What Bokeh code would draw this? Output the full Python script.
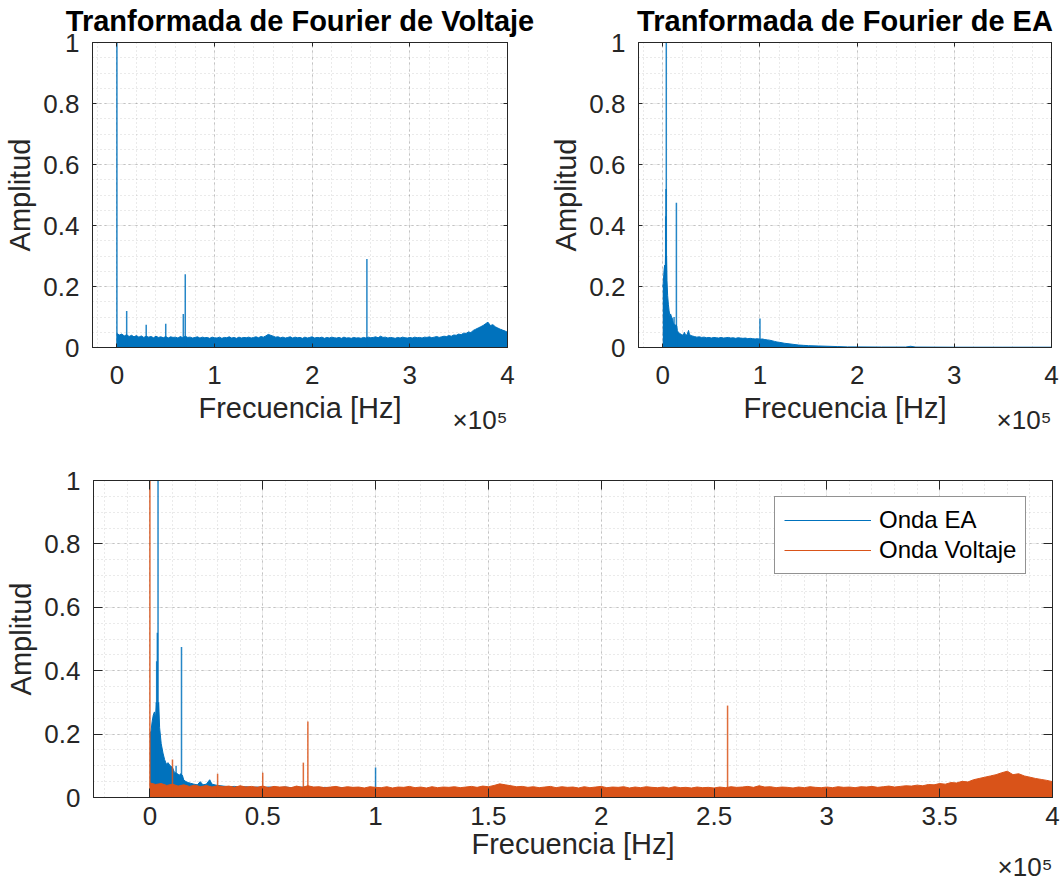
import numpy as np
from bokeh.plotting import figure
from bokeh.layouts import column, row
from bokeh.models import (FixedTicker, LinearAxis, Range1d, Legend, LegendItem,
                          Title)
from bokeh.embed import file_html
from bokeh.resources import INLINE

# ---------------------------------------------------------------- data
# Voltage spectrum: broadband floor sampled every 2.5 kHz (0 .. 400 kHz)
volt_floor_freq = list(range(0, 400001, 2500))
volt_floor_amp = [
    0.046, 0.041, 0.044, 0.038, 0.042, 0.036, 0.040, 0.035, 0.039, 0.034,
    0.038, 0.033, 0.037, 0.034, 0.036, 0.032, 0.037, 0.033, 0.035, 0.032,
    0.036, 0.031, 0.035, 0.033, 0.034, 0.031, 0.036, 0.032, 0.037, 0.033,
    0.034, 0.031, 0.033, 0.035, 0.031, 0.034, 0.032, 0.033, 0.030, 0.034,
    0.032, 0.031, 0.034, 0.030, 0.033, 0.032, 0.035, 0.031, 0.033, 0.030,
    0.034, 0.031, 0.033, 0.032, 0.034, 0.031, 0.033, 0.035, 0.032, 0.036,
    0.034, 0.038, 0.043, 0.040, 0.037, 0.034, 0.035, 0.032, 0.034, 0.031,
    0.033, 0.035, 0.031, 0.034, 0.032, 0.033, 0.030, 0.034, 0.031, 0.033,
    0.035, 0.031, 0.033, 0.032, 0.034, 0.030, 0.033, 0.031, 0.034, 0.032,
    0.031, 0.033, 0.030, 0.034, 0.031, 0.032, 0.030, 0.033, 0.031, 0.032,
    0.030, 0.033, 0.031, 0.034, 0.032, 0.033, 0.035, 0.032, 0.037, 0.033,
    0.034, 0.031, 0.033, 0.032, 0.030, 0.033, 0.031, 0.034, 0.032, 0.031,
    0.033, 0.031, 0.034, 0.032, 0.033, 0.031, 0.034, 0.033, 0.035, 0.032,
    0.034, 0.036, 0.033, 0.035, 0.037, 0.036, 0.039, 0.037, 0.041, 0.040,
    0.044, 0.042, 0.047, 0.046, 0.051, 0.049, 0.056, 0.060, 0.064, 0.068,
    0.072, 0.078, 0.083, 0.072, 0.075, 0.068, 0.064, 0.060, 0.057, 0.054,
    0.050,
]
# Voltage spectrum: narrow tones
volt_peak_freq = [0, 10000, 30000, 50000, 68000, 70000, 256000]
volt_peak_amp = [1.0, 0.12, 0.075, 0.078, 0.11, 0.24, 0.29]

# Acoustic-emission (EA) spectrum: broadband part
ea_floor_freq = [
    0, 500, 1000, 1500, 2000, 2500, 2800, 3300, 3900, 4300,
    5000, 5800, 6500, 7300, 8000, 9000, 10000, 10800, 12200, 13000,
    13600, 14400, 15000, 16000, 17000, 18000, 19500, 21000, 22300, 23500,
    25000, 26500, 27500, 30000, 32500, 35000, 37500, 40000, 42500, 45000,
    47500, 50000, 52500, 55000, 57500, 60000, 62500, 65000, 67500, 70000,
    72500, 75000, 77500, 80000, 82500, 85000, 87500, 90000, 92500, 95000,
    97500, 100000, 102500, 105000, 107500, 110000, 112500, 115000, 117500, 120000,
    125000, 130000, 135000, 140000, 145000, 150000, 160000, 170000, 180000, 190000,
    200000, 225000, 250000, 255000, 260000, 300000, 350000, 400000,
]
ea_floor_amp = [
    0.20, 0.21, 0.24, 0.26, 0.27, 0.25, 0.30, 0.28, 0.30, 0.22,
    0.17, 0.14, 0.12, 0.105, 0.11, 0.10, 0.095, 0.08, 0.075, 0.07,
    0.075, 0.07, 0.055, 0.05, 0.047, 0.045, 0.042, 0.040, 0.050, 0.040,
    0.042, 0.056, 0.042, 0.038, 0.036, 0.034, 0.035, 0.033, 0.034, 0.032,
    0.033, 0.031, 0.033, 0.032, 0.031, 0.033, 0.031, 0.032, 0.033, 0.031,
    0.032, 0.030, 0.032, 0.031, 0.030, 0.031, 0.029, 0.030, 0.029, 0.028,
    0.029, 0.027, 0.028, 0.026, 0.025, 0.024, 0.022, 0.020, 0.018, 0.017,
    0.014, 0.012, 0.010, 0.008, 0.007, 0.006, 0.005, 0.004, 0.003, 0.002,
    0.002, 0.0015, 0.0015, 0.004, 0.0015, 0.001, 0.001, 0.001,
]
# EA spectrum: narrow tones
ea_peak_freq = [3000, 3300, 3600, 11600, 14000, 100000]
ea_peak_amp = [0.43, 0.52, 1.0, 0.10, 0.475, 0.095]

# Axis ticks and their labels (frequency axis shown in units of 1e5 Hz)
top_x_ticks = [0, 100000, 200000, 300000, 400000]
top_x_labels = ["0", "1", "2", "3", "4"]
bottom_x_ticks = [0, 50000, 100000, 150000, 200000, 250000, 300000, 350000, 400000]
bottom_x_labels = ["0", "0.5", "1", "1.5", "2", "2.5", "3", "3.5", "4"]
y_ticks = [0, 0.2, 0.4, 0.6, 0.8, 1]
y_labels = ["0", "0.2", "0.4", "0.6", "0.8", "1"]
x_exponent = "×10⁵"

# ---------------------------------------------------------------- style
FONT = "Liberation Sans"
INK = "#262626"
BLUE = "#0072BD"
ORANGE = "#D95319"
X_MIN, X_MAX = -25000, 400000


def make_fig(width, height, left, right, top, bottom, title=None):
    p = figure(width=width, height=height, output_backend="svg",
               toolbar_location=None, x_range=Range1d(X_MIN, X_MAX),
               y_range=Range1d(0, 1), min_border_left=left,
               min_border_right=right, min_border_top=top,
               min_border_bottom=bottom, title=title)
    p.background_fill_color = "white"
    p.border_fill_color = "white"
    p.outline_line_color = INK
    p.outline_line_width = 1
    if title:
        p.title.text_font = FONT
        p.title.text_font_size = "29px"
        p.title.text_font_style = "bold"
        p.title.text_color = "black"
        p.title.align = "center"
        p.title.standoff = 4
    return p


def style(p, x_ticks, x_labels, x_minor_step, tick_len, x_label_standoff,
          x_title_standoff, exp_standoff):
    xt = FixedTicker(ticks=x_ticks,
                     minor_ticks=list(np.arange(-20000, 400001, x_minor_step)))
    yt = FixedTicker(ticks=y_ticks, minor_ticks=list(np.arange(0, 1.0001, 0.05)))
    for ax, tk, labels in ((p.xaxis[0], xt, x_labels), (p.yaxis[0], yt, y_labels)):
        ax.ticker = tk
        ax.major_label_overrides = {t: s for t, s in zip(tk.ticks, labels)}
        ax.major_label_text_font = FONT
        ax.major_label_text_font_size = "26px"
        ax.major_label_text_color = INK
        ax.axis_label_text_font = FONT
        ax.axis_label_text_font_size = "29px"
        ax.axis_label_text_font_style = "normal"
        ax.axis_label_text_color = INK
        ax.axis_line_color = INK
        ax.major_tick_line_color = INK
        ax.major_tick_in = tick_len
        ax.major_tick_out = 0
        ax.minor_tick_line_color = None
    p.xaxis[0].axis_label = "Frecuencia [Hz]"
    p.xaxis[0].major_label_standoff = x_label_standoff
    p.xaxis[0].axis_label_standoff = x_title_standoff
    p.yaxis[0].axis_label = "Amplitud"
    p.yaxis[0].major_label_standoff = 9
    p.yaxis[0].axis_label_standoff = 4

    # mirrored tick marks on the top and right edges (no labels there)
    for tk, side in ((xt, "above"), (yt, "right")):
        ax = LinearAxis(ticker=tk, major_label_text_font_size="1px",
                        major_label_text_color=None,
                        major_label_standoff=0, major_tick_in=tick_len,
                        major_tick_out=0, minor_tick_line_color=None,
                        axis_line_color=INK, major_tick_line_color=INK)
        p.add_layout(ax, side)

    for g in (p.xgrid[0], p.ygrid[0]):
        g.grid_line_color = INK
        g.grid_line_alpha = 0.2
        g.grid_line_dash = "3 3"
        g.minor_grid_line_color = INK
        g.minor_grid_line_alpha = 0.2
        g.minor_grid_line_dash = "1 3"

    # scale factor of the frequency axis, right-aligned under the axis
    p.add_layout(Title(text=x_exponent, align="right", vertical_align="top",
                       offset=0, standoff=exp_standoff, text_font=FONT,
                       text_font_size="26px", text_font_style="normal",
                       text_color=INK), "below")


def spectrum(p, f_floor, a_floor, f_peak, a_peak, color):
    p.varea(x=f_floor, y1=0, y2=a_floor, fill_color=color)
    r = p.line(f_floor, a_floor, line_color=color, line_width=1)
    p.segment(x0=f_peak, y0=[0] * len(f_peak), x1=f_peak, y1=a_peak,
              line_color=color, line_width=1.5, line_alpha=0.85)
    return r


# ---------------------------------------------------------------- panels
p1 = make_fig(547, 440, 92, 40, 41, 93, "Tranformada de Fourier de Voltaje")
style(p1, top_x_ticks, top_x_labels, 20000, 4, 14, 5, -44)
spectrum(p1, volt_floor_freq, volt_floor_amp, volt_peak_freq, volt_peak_amp, BLUE)

p2 = make_fig(516, 440, 90, 12, 41, 93, "Tranformada de Fourier de EA")
style(p2, top_x_ticks, top_x_labels, 20000, 4, 14, 5, -44)
spectrum(p2, ea_floor_freq, ea_floor_amp, ea_peak_freq, ea_peak_amp, BLUE)

p3 = make_fig(1063, 441, 93, 11, 40, 84)
style(p3, bottom_x_ticks, bottom_x_labels, 10000, 9, 5, 0, -22)
r_ea = spectrum(p3, ea_floor_freq, ea_floor_amp, ea_peak_freq, ea_peak_amp, BLUE)
r_v = spectrum(p3, volt_floor_freq, volt_floor_amp, volt_peak_freq, volt_peak_amp, ORANGE)

legend = Legend(items=[LegendItem(label="Onda EA", renderers=[r_ea]),
                       LegendItem(label="Onda Voltaje", renderers=[r_v])],
                location=(681, 223), label_text_font=FONT,
                label_text_font_size="24px", label_text_color="black",
                glyph_width=87, glyph_height=28, label_height=28,
                label_standoff=8, padding=9, spacing=2,
                border_line_color=INK, border_line_width=1,
                background_fill_color="white", background_fill_alpha=1)
p3.add_layout(legend)

page = column(row(p1, p2), p3)
open("out.html", "w").write(file_html(page, INLINE))
